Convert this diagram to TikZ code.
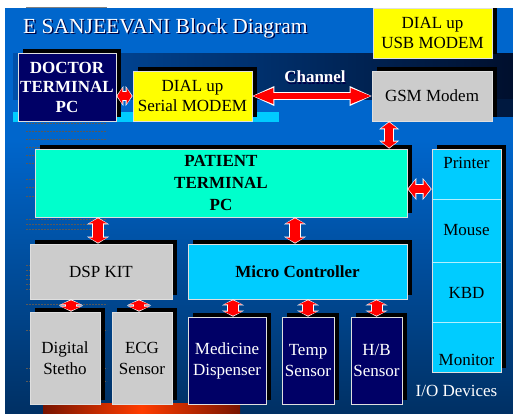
\documentclass[tikz,border=0pt]{standalone}
\usepackage{fontspec}
\setmainfont{Liberation Serif}
\usetikzlibrary{arrows.meta,calc,shadows}
\definecolor{bgtop}{RGB}{0,102,204}
\definecolor{bgbot}{RGB}{0,48,100}
\definecolor{navybox}{RGB}{0,0,102}
\definecolor{ybox}{RGB}{255,255,0}
\definecolor{gbox}{RGB}{204,204,204}
\definecolor{aqbox}{RGB}{0,255,204}
\definecolor{cybox}{RGB}{0,204,255}
\definecolor{bandl}{RGB}{0,80,170}
\definecolor{bandr}{RGB}{0,15,45}
\definecolor{orl}{RGB}{120,20,0}
\definecolor{orm}{RGB}{255,60,0}
\definecolor{arrred}{RGB}{255,0,0}
\newcommand{\biarr}[5]{%
  \pgfmathsetmacro\bwW{#3+2}\pgfmathsetmacro\hwW{#4+4}\pgfmathsetmacro\hlW{#5+2}%
  \draw[white, line width=\bwW pt, arrows={Triangle[length=\hlW pt,width=\hwW pt,line width=0pt]-Triangle[length=\hlW pt,width=\hwW pt,line width=0pt]}] #1 -- #2;
  \draw[arrred, line width=#3pt, shorten >=1pt, shorten <=1pt, arrows={Triangle[length=#5pt,width=#4pt,line width=0pt]-Triangle[length=#5pt,width=#4pt,line width=0pt]}] #1 -- #2;
}
\tikzset{
  every node/.style={font=\fontsize{17}{20}\selectfont, inner sep=0pt},
  box/.style={draw=white!75!gray, line width=0.7pt, align=center,
    general shadow={fill=black, shadow xshift=4.5pt, shadow yshift=4.5pt}},
  dashln/.style={draw=black!65, line width=0.5pt, dash pattern=on 2pt off 1pt},
  divline/.style={draw=white!70!cybox, line width=0.8pt},
}
\begin{document}
\begin{tikzpicture}[x=1pt,y=-1pt]
\useasboundingbox (0,0) rectangle (513,413);
% background
\fill[white] (0,0) rectangle (513,413);
\fill[bgtop] (5,8) rectangle (513,140);
\shade[top color=bgtop, bottom color=bgbot] (5,140) rectangle (513,413);
\shade[left color=bandl, right color=bandr] (13,53) rectangle (513,99);
\fill[bandr!85!bandl] (492,99) rectangle (513,117);
\fill[cybox] (13,112) rectangle (279,122);
\shade[left color=orl, right color=orl, middle color=orm] (43,403) rectangle (240,413);
\foreach \yy in {123,131,139,147,155,163,179,187,196,219,224,229,265,270,275,279,284,289,304,330,368,381}
  \draw[dashln] (26,\yy) -- (107,\yy);
% title
\node[anchor=base west, font=\fontsize{21.5}{24}\selectfont, text=black!75!blue] (titleshadow) at (24.3,34.3) {E SANJEEVANI Block Diagram};
\node[anchor=base west, font=\fontsize{21.5}{24}\selectfont, text=white] (title) at (23,33) {E SANJEEVANI Block Diagram};
% boxes
\node[box, fill=ybox, minimum width=119pt, minimum height=50pt] (usb) at (432.5,33) {DIAL up\\USB MODEM};
\node[box, fill=navybox, text=white, font=\fontsize{17}{19.5}\selectfont\bfseries, minimum width=98pt, minimum height=68pt] (doctor) at (67,87) {DOCTOR\\TERMINAL\\PC};
\node[box, fill=ybox, minimum width=119pt, minimum height=50pt] (serial) at (192.5,96) {DIAL up\\Serial MODEM};
\node[box, fill=gbox, minimum width=120pt, minimum height=50pt] (gsm) at (432,96) {GSM Modem};
\node[font=\fontsize{17}{20}\selectfont\bfseries, text=black!70!blue] (chshadow) at (316,78.2) {Channel};
\node[font=\fontsize{17}{20}\selectfont\bfseries, text=white] (channel) at (315,77) {Channel};
\node[box, fill=aqbox, font=\fontsize{17}{22}\selectfont\bfseries, minimum width=372pt, minimum height=68pt] (patient) at (221,183) {PATIENT\\TERMINAL\\PC};
\node[box, fill=cybox, minimum width=69pt, minimum height=223pt] (io) at (466.5,260.5) {};
\draw[divline] (io.west |- 0,199) -- (io.east |- 0,199);
\draw[divline] (io.west |- 0,262) -- (io.east |- 0,262);
\draw[divline] (io.west |- 0,322) -- (io.east |- 0,322);
\node (printer) at (466.5,163) {Printer};
\node (mouse) at (466.5,230) {Mouse};
\node (kbd) at (466.5,293) {KBD};
\node (monitor) at (466.5,360) {Monitor};
\node[box, fill=gbox, minimum width=142pt, minimum height=55pt] (dsp) at (101,271.5) {DSP KIT};
\node[box, fill=cybox, font=\fontsize{17}{20}\selectfont\bfseries, minimum width=219pt, minimum height=55pt] (micro) at (297.5,271.5) {Micro Controller};
\node[box, fill=gbox, font=\fontsize{17}{21}\selectfont, minimum width=70pt, minimum height=92pt] (stetho) at (65,358) {Digital\\Stetho};
\node[box, fill=gbox, font=\fontsize{17}{21}\selectfont, minimum width=60pt, minimum height=92pt] (ecg) at (142,358) {ECG\\Sensor};
\node[box, fill=navybox, text=white, font=\fontsize{17}{21}\selectfont, minimum width=78pt, minimum height=87pt] (medicine) at (227,360.5) {Medicine\\Dispenser};
\node[box, fill=navybox, text=white, font=\fontsize{17}{21}\selectfont, minimum width=52pt, minimum height=87pt] (temp) at (308,360.5) {Temp\\Sensor};
\node[box, fill=navybox, text=white, font=\fontsize{17}{21}\selectfont, minimum width=51pt, minimum height=87pt] (hb) at (376.5,360.5) {H/B\\Sensor};
\node[text=white] (iolabel) at (456.5,391) {I/O Devices};
% arrows
\coordinate (a1) at (doctor.east |- serial.west);
\biarr{(a1)}{(serial.west)}{8}{16}{5}
\biarr{(serial.east)}{(gsm.west)}{6}{16}{20}
\coordinate (a3) at ($(gsm.south west)+(17.5,0)$);
\biarr{(a3)}{(a3 |- patient.north)}{8}{16}{6}
\coordinate (a4) at ($(patient.east)+(0,6)$);
\biarr{(a4)}{(a4 -| io.west)}{8}{18}{7}
\coordinate (a5) at ($(dsp.north)+(-3,0)$);
\biarr{(a5 |- patient.south)}{(a5)}{10}{18}{5}
\coordinate (a6) at ($(micro.north)+(-2.5,0)$);
\biarr{(a6 |- patient.south)}{(a6)}{10}{18}{5}
\coordinate (a7) at ($(stetho.north)+(6,0)$);
\biarr{(a7 |- dsp.south)}{(a7)}{10}{20}{4}
\coordinate (a8) at ($(ecg.north)+(-3,0)$);
\biarr{(a8 |- dsp.south)}{(a8)}{10}{20}{4}
\coordinate (a9) at ($(medicine.north)+(6,0)$);
\biarr{(a9 |- micro.south)}{(a9)}{10}{18}{4}
\biarr{(temp.north |- micro.south)}{(temp.north)}{10}{18}{4}
\biarr{(hb.north |- micro.south)}{(hb.north)}{10}{18}{4}
% margins
\fill[white] (0,0) rectangle (513,8);
\fill[white] (0,0) rectangle (5,413);
\draw[gray, line width=1pt] (26,7) -- (107,7);
\end{tikzpicture}
\end{document}
